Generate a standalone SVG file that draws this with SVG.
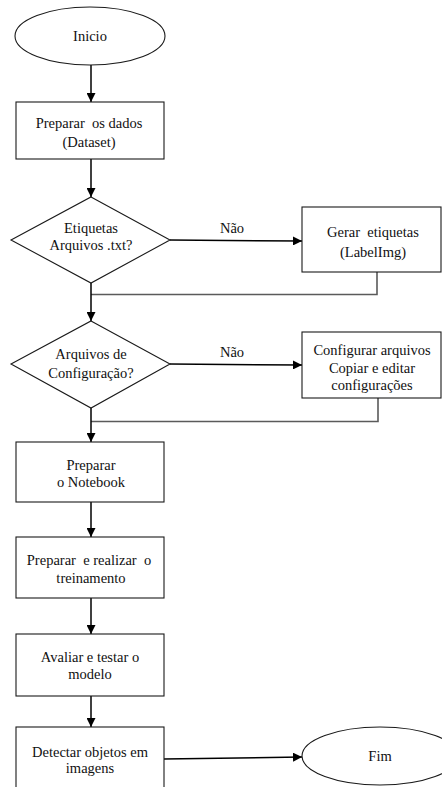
<svg xmlns="http://www.w3.org/2000/svg" width="442" height="787" viewBox="0 0 442 787">
  <style>
    .shape { fill: #ffffff; stroke: #1a1a1a; stroke-width: 1.1; }
    .flow { fill: none; stroke: #000000; stroke-width: 1.5; }
    .back { fill: none; stroke: #5a5a5a; stroke-width: 1.6; }
    .lbl { font-size: 14.5px; fill: #111111; text-anchor: middle; white-space: pre; }
  </style>
  <defs>
    <marker id="arrow" viewBox="0 0 10 10" refX="10" refY="5" markerWidth="9" markerHeight="9" markerUnits="userSpaceOnUse" orient="auto">
      <path d="M0,0 L10,5 L0,10 Z" fill="#000000"/>
    </marker>
  </defs>

  <rect width="442" height="787" fill="#ffffff"/>

  <g font-family="'Liberation Serif', 'Times New Roman', 'DejaVu Serif', serif">
  <g id="connectors">
    <line class="flow" x1="91" y1="65" x2="91" y2="102" marker-end="url(#arrow)"/>
    <line class="flow" x1="91" y1="159" x2="91" y2="197" marker-end="url(#arrow)"/>
    <line class="flow" x1="170" y1="240" x2="302" y2="241" marker-end="url(#arrow)"/>
    <polyline class="back" points="377,272 377,294.5 91,294.5"/>
    <line class="flow" x1="91" y1="283" x2="91" y2="321" marker-end="url(#arrow)"/>
    <line class="flow" x1="170" y1="364" x2="302" y2="365" marker-end="url(#arrow)"/>
    <polyline class="back" points="378,398 378,421.5 91,421.5"/>
    <line class="flow" x1="91" y1="408" x2="91" y2="442" marker-end="url(#arrow)"/>
    <line class="flow" x1="91" y1="502" x2="91" y2="537" marker-end="url(#arrow)"/>
    <line class="flow" x1="91" y1="598" x2="91" y2="634" marker-end="url(#arrow)"/>
    <line class="flow" x1="91" y1="696" x2="91" y2="727" marker-end="url(#arrow)"/>
    <line class="flow" x1="164" y1="759" x2="302" y2="757" marker-end="url(#arrow)"/>
    <text class="lbl" x="232" y="233">Não</text>
    <text class="lbl" x="232" y="357">Não</text>
  </g>

  <g id="inicio">
    <ellipse class="shape" cx="90" cy="36" rx="75" ry="29"/>
    <text class="lbl" x="90" y="41">Inicio</text>
  </g>

  <g id="preparar-dados">
    <rect class="shape" x="16" y="102" width="148" height="57"/>
    <text class="lbl" x="89" y="128">Preparar  os dados</text>
    <text class="lbl" x="89" y="147">(Dataset)</text>
  </g>

  <g id="decisao-etiquetas">
    <polygon class="shape" points="91,197 170,240 91,283 11,240"/>
    <text class="lbl" x="91" y="233">Etiquetas</text>
    <text class="lbl" x="91" y="250">Arquivos .txt?</text>
  </g>

  <g id="gerar-etiquetas">
    <rect class="shape" x="302" y="207" width="139" height="65"/>
    <text class="lbl" x="373" y="237">Gerar  etiquetas</text>
    <text class="lbl" x="373" y="257">(LabelImg)</text>
  </g>

  <g id="decisao-configuracao">
    <polygon class="shape" points="91,321 170,364 91,408 11,364"/>
    <text class="lbl" x="91" y="359">Arquivos de</text>
    <text class="lbl" x="91" y="378">Configuração?</text>
  </g>

  <g id="configurar-arquivos">
    <rect class="shape" x="302" y="332" width="139" height="66"/>
    <text class="lbl" x="372" y="355">Configurar arquivos</text>
    <text class="lbl" x="372" y="373">Copiar e editar</text>
    <text class="lbl" x="372" y="390">configurações</text>
  </g>

  <g id="preparar-notebook">
    <rect class="shape" x="16" y="442" width="148" height="60"/>
    <text class="lbl" x="91" y="470">Preparar</text>
    <text class="lbl" x="91" y="487">o Notebook</text>
  </g>

  <g id="treinamento">
    <rect class="shape" x="16" y="537" width="148" height="61"/>
    <text class="lbl" x="89" y="565">Preparar  e realizar  o</text>
    <text class="lbl" x="91" y="583">treinamento</text>
  </g>

  <g id="avaliar">
    <rect class="shape" x="16" y="634" width="148" height="62"/>
    <text class="lbl" x="90" y="662">Avaliar e testar o</text>
    <text class="lbl" x="90" y="679">modelo</text>
  </g>

  <g id="detectar">
    <rect class="shape" x="16" y="727" width="148" height="66"/>
    <text class="lbl" x="90" y="757">Detectar objetos em</text>
    <text class="lbl" x="90" y="773">imagens</text>
  </g>

  <g id="fim">
    <ellipse class="shape" cx="380" cy="756" rx="78" ry="29"/>
    <text class="lbl" x="380" y="761">Fim</text>
  </g>
  </g>
</svg>
